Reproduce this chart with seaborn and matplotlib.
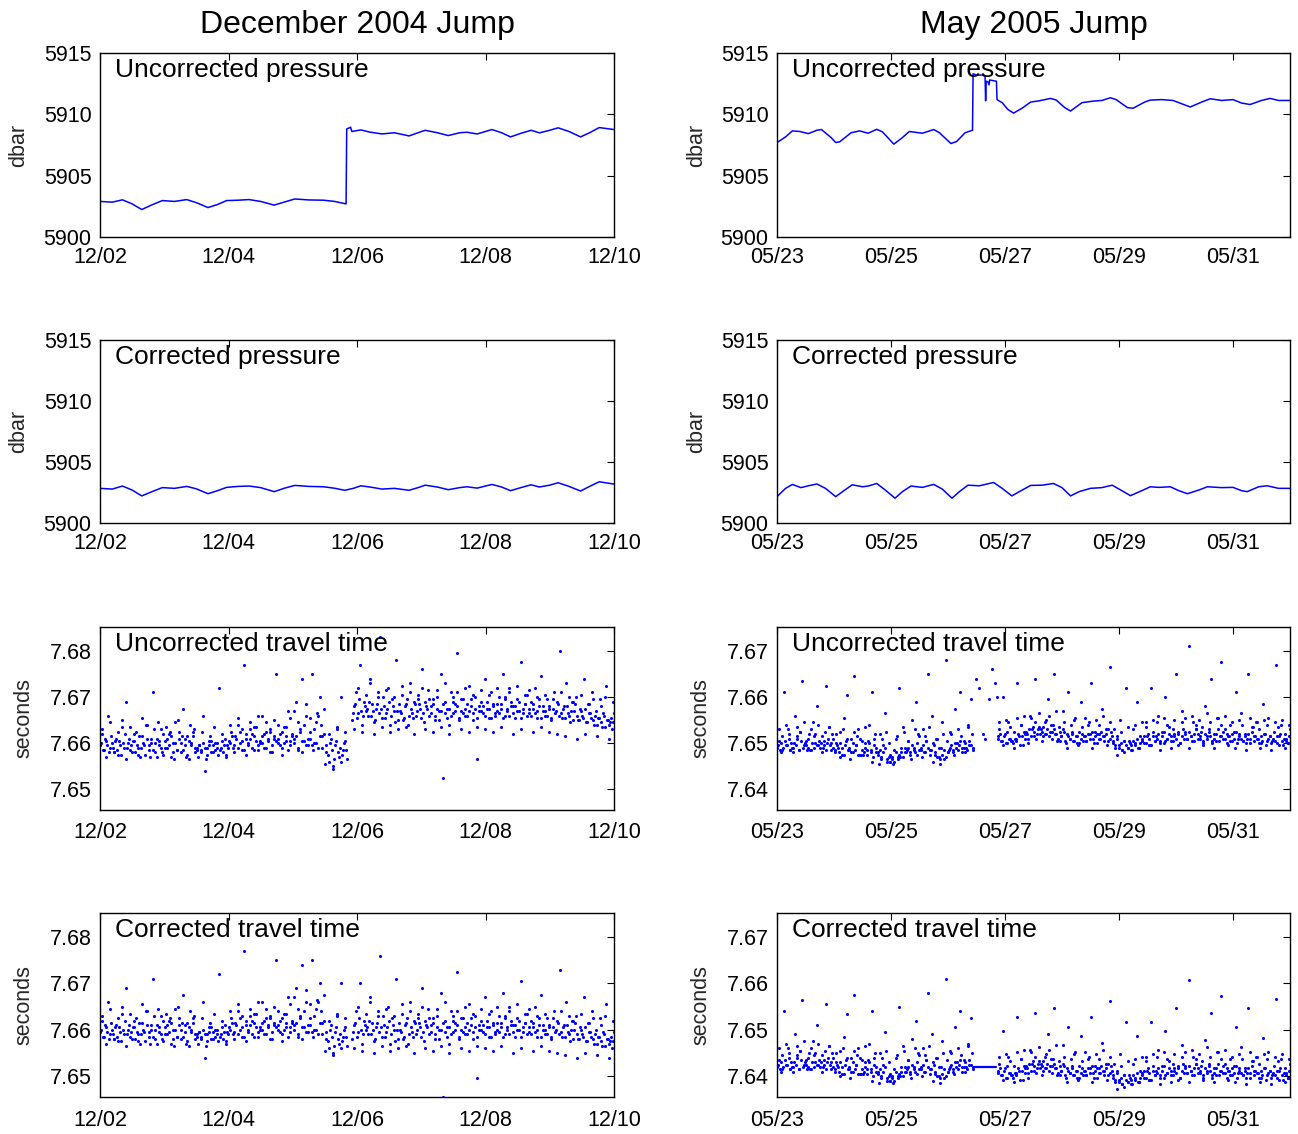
import numpy as np
import pandas as pd
import seaborn as sns
import matplotlib.pyplot as plt

# ---------------- pressure (dbar), x = days since window start ----------------
dec_p_days = [0, 0.19, 0.35, 0.5, 0.65, 0.8, 0.97, 1.16, 1.35, 1.5,
              1.68, 1.83, 1.97, 2.15, 2.32, 2.5, 2.71, 2.87, 3.03, 3.25,
              3.48, 3.65, 3.83, 3.84, 3.90, 3.92, 4.06, 4.2, 4.39, 4.58,
              4.81, 4.95, 5.06, 5.25, 5.42, 5.6, 5.71, 5.87, 6.1, 6.25,
              6.39, 6.55, 6.71, 6.84, 7.0, 7.13, 7.3, 7.48, 7.62, 7.77, 8.0]
dec_p_raw = [5902.9, 5902.84, 5903.03, 5902.7, 5902.24, 5902.6, 5902.97, 5902.9, 5903.05, 5902.8,
             5902.4, 5902.65, 5902.97, 5903.0, 5903.05, 5902.9, 5902.6, 5902.85, 5903.1, 5903.02,
             5903.0, 5902.9, 5902.7, 5908.8, 5908.95, 5908.6, 5908.73, 5908.55, 5908.4, 5908.5,
             5908.24, 5908.5, 5908.7, 5908.5, 5908.27, 5908.5, 5908.54, 5908.4, 5908.76, 5908.5,
             5908.16, 5908.45, 5908.7, 5908.49, 5908.7, 5908.9, 5908.6, 5908.16, 5908.5, 5908.92, 5908.76]

dec_pc_days = [0, 0.19, 0.35, 0.5, 0.65, 0.8, 0.97, 1.16, 1.35, 1.5,
               1.68, 1.83, 1.97, 2.15, 2.32, 2.5, 2.71, 2.87, 3.03, 3.25,
               3.48, 3.65, 3.81, 3.95, 4.06, 4.2, 4.39, 4.58, 4.81, 4.95,
               5.06, 5.25, 5.42, 5.6, 5.71, 5.87, 6.1, 6.25, 6.39, 6.55,
               6.71, 6.84, 7.0, 7.13, 7.3, 7.48, 7.62, 7.77, 8.0]
dec_p_corr = [5902.84, 5902.78, 5903.03, 5902.7, 5902.22, 5902.55, 5902.9, 5902.84, 5903.0, 5902.8,
              5902.4, 5902.65, 5902.92, 5903.0, 5903.03, 5902.9, 5902.57, 5902.85, 5903.08, 5903.0,
              5902.97, 5902.85, 5902.68, 5902.85, 5903.05, 5902.95, 5902.78, 5902.84, 5902.68, 5902.9,
              5903.1, 5902.95, 5902.73, 5902.9, 5902.97, 5902.86, 5903.16, 5902.95, 5902.65, 5902.9,
              5903.13, 5902.95, 5903.1, 5903.3, 5903.0, 5902.62, 5903.0, 5903.38, 5903.19]

may_p_days = [0, 0.15, 0.27, 0.4, 0.55, 0.7, 0.78, 0.95, 1.03, 1.1,
              1.3, 1.45, 1.6, 1.75, 1.85, 2.05, 2.2, 2.32, 2.55, 2.75,
              2.85, 3.05, 3.15, 3.3, 3.43, 3.44, 3.5, 3.6, 3.65, 3.66,
              3.67, 3.7, 3.72, 3.73, 3.85, 3.86, 3.95, 4.05, 4.15, 4.3,
              4.45, 4.6, 4.8, 4.9, 5.05, 5.15, 5.35, 5.55, 5.7, 5.85,
              5.95, 6.15, 6.25, 6.45, 6.55, 6.75, 6.95, 7.1, 7.25, 7.45,
              7.6, 7.8, 8.0, 8.15, 8.3, 8.5, 8.65, 8.8, 9.0]
may_p_raw = [5907.7, 5908.16, 5908.65, 5908.6, 5908.43, 5908.7, 5908.76, 5908.1, 5907.7, 5907.76,
             5908.5, 5908.65, 5908.46, 5908.78, 5908.57, 5907.57, 5908.1, 5908.6, 5908.46, 5908.76,
             5908.5, 5907.62, 5907.78, 5908.5, 5908.7, 5913.3, 5913.2, 5913.2, 5913.1, 5911.1,
             5912.7, 5912.65, 5912.4, 5912.8, 5912.7, 5911.2, 5910.95, 5910.4, 5910.1, 5910.5,
             5911.0, 5911.1, 5911.3, 5911.16, 5910.54, 5910.27, 5910.95, 5911.08, 5911.13, 5911.35,
             5911.2, 5910.54, 5910.5, 5911.0, 5911.16, 5911.2, 5911.13, 5910.86, 5910.6, 5911.0,
             5911.27, 5911.13, 5911.2, 5910.92, 5910.8, 5911.13, 5911.3, 5911.13, 5911.13]

may_pc_days = [0, 0.15, 0.27, 0.42, 0.55, 0.7, 0.85, 1.03, 1.15, 1.32,
               1.5, 1.6, 1.75, 1.9, 2.07, 2.2, 2.35, 2.55, 2.75, 2.9,
               3.07, 3.2, 3.35, 3.55, 3.8, 3.95, 4.12, 4.25, 4.45, 4.65,
               4.85, 5.0, 5.15, 5.3, 5.5, 5.7, 5.88, 6.05, 6.2, 6.4,
               6.55, 6.7, 6.9, 7.05, 7.2, 7.4, 7.55, 7.8, 8.0, 8.15,
               8.25, 8.45, 8.6, 8.8, 9.0]
may_p_corr = [5902.16, 5902.84, 5903.16, 5902.9, 5903.05, 5903.2, 5902.84, 5902.16, 5902.57, 5903.13,
              5902.97, 5903.03, 5903.24, 5902.7, 5902.03, 5902.57, 5903.03, 5902.92, 5903.16, 5902.78,
              5902.03, 5902.57, 5903.1, 5903.05, 5903.32, 5902.84, 5902.22, 5902.57, 5903.08, 5903.1,
              5903.24, 5902.9, 5902.22, 5902.57, 5902.84, 5902.9, 5903.1, 5902.65, 5902.24, 5902.65,
              5902.97, 5902.92, 5902.97, 5902.65, 5902.4, 5902.7, 5902.97, 5902.9, 5902.92, 5902.65,
              5902.57, 5902.97, 5903.05, 5902.84, 5902.84]

# ---------------- travel time, in 0.1 ms relative to a base value ----------------
# each segment is read as interleaved passes: wide, core and mid
dec_tt_base = 7.66
dec_tt_a_span = (0.0, 3.84)   # before the jump
dec_tt_a = [-5, 20, -15, 5, 60, -10, 0, -20,  10, -25, -5, 35, -10, 90, 0, -15,
            -20, 5, 25, -10, -30, 15, -5, 40,  -15, 0, 110, -20, 10, -5, 30, -25,
            5, -10, 20, -30, 0, 45, -15, 10,  -20, 75, -5, 15, -35, 0, 25, -10,
            -10, -5, -15, 60, -60, -10, 5, -20,  -5, -15, 0, 120, -10, -20, 10, -5,
            5, 25, -10, 15, 40, 0, -15, 170,  10, -5, 30, 20, -15, 5, 60, 0,
            15, -10, 45, 5, 25, -20, 10, 150,  0, 20, -10, 35, 5, 70, -5, 15,
            10, 90, -15, 30, 140, 5, 60, -5,  25, 150, 0, 45, -10, 100, 15, 75,
            -20, -40, 10, -55, -5, 30, -30, 100,  -15, 5, -35]
dec_tt_a2_span = (0.015, 3.83)
dec_tt_a2 = [0, -15, 10, -5, -20, 15, -10, 5,  -15, 5, -25, 0, 20, -10, 10, -5,
             5, -20, -5, 15, -10, 0, -25, 10,  -5, 10, -15, 0, -30, 5, -10, 20,
             -10, 10, -5, 15, -20, 0, -15, 25,  0, -15, 10, -25, 5, -5, 15, -20,
             -15, -5, -20, 0, -10, -25, -5, 5,  -20, 0, -10, -15, 5, -5, -25, -10,
             0, 15, -5, 10, -10, 25, 5, -15,  20, 0, 10, -10, 15, 35, -5, 5,
             0, 20, -10, 10, 30, -5, 15, 5,  10, -5, 25, 0, 15, -15, 5, 20,
             0, 15, -10, 25, 5, 40, -5, 10,  10, -5, 30, 0, 60, 15, -10, 20,
             -5, -25, 0, -15, -35, 5, -20, -10,  -25, 0, -15]
dec_tt_a3_span = (0.03, 3.82)
dec_tt_a3 = [30, -30, 45, -20, 25, 50, -35, 35, 20, -25, 55, 40, -30, 30, 45, -20,
             35, 25, -35, 50, 15, -30, 40, 30,  -30, 25, -35, 15, 35, -25, 20, -30,
             40, -20, 55, 30, -25, 45, 35, -15, 60, 25, -20, 50, 40, -25, 35, 55,
             70, 45, -20, 85, 55, -15, 65, 40,  -45, 20, -50, 35, -40, 25]
dec_tt_b_span = (3.92, 8.0)   # after the jump
dec_tt_b = [50, 80, 110, 65, 170, 40, 90, 70,  60, 140, 85, 45, 75, 100, 230, 55,
            80, 65, 120, 40, 95, 70, 180, 50,  70, 105, 55, 85, 40, 130, 65, 90,
            60, 95, 75, 160, 45, 80, 115, 65,  85, 50, 100, 70, 150, -75, 90, 75,
            40, 110, 65, 85, 195, 55, 70, 95,  75, 60, 125, 80, 50, 100, -35, 70,
            90, 65, 140, 75, 55, 110, 80, 60,  70, 100, 85, 150, 60, 75, 120, 90,
            80, 55, 95, 70, 175, 65, 85, 105,  65, 90, 75, 120, 55, 80, 145, 70,
            60, 95, 75, 50, 110, 70, 85, 200,  55, 80, 130, 65, 45, 90, 70, 100,
            50, 75, 60, 140, 45, 85, 65, 110,  40, 70, 55, 95, 35, 60, 125, 50,
            45, 30, 65]
dec_tt_b2_span = (3.935, 7.99)
dec_tt_b2 = [65, 85, 55, 95, 70, 60, 80, 75,  90, 60, 70, 50, 85, 65, 75, 100,
             55, 75, 90, 60, 80, 45, 70, 85,  65, 50, 80, 95, 60, 75, 55, 85,
             70, 85, 55, 65, 90, 75, 60, 80,  95, 60, 75, 50, 70, 85, 65, 55,
             75, 60, 90, 70, 80, 50, 95, 65,  60, 85, 70, 95, 65, 75, 55, 80,
             70, 80, 60, 90, 75, 55, 85, 65,  85, 65, 75, 55, 95, 70, 60, 80,
             65, 80, 70, 90, 55, 75, 85, 60,  75, 60, 85, 65, 70, 95, 55, 80,
             70, 60, 80, 55, 75, 65, 90, 60,  65, 75, 55, 80, 60, 70, 50, 85,
             60, 50, 70, 55, 75, 45, 65, 55,  50, 60, 40, 55, 45, 65, 35, 50,
             40, 55, 45]
dec_tt_b3_span = (3.95, 7.98)
dec_tt_b3 = [30, 120, 25, 105, 130, 20, 110, 35,
             115, 25, 100, 30, 125, 35, 110, 20, 105, 120, 30, 95, 25, 115, 35, 130,
             20, 100, 110, 30, 120, 25, 105, 35,
             115, 30, 105, 25, 120, 35, 100, 110, 20, 125, 30, 105, 115, 25, 100, 35,
             105, 25, 95, 20, 110, 15, 100, 90, 10, 105, 20, 85, 95, 15, 80, 100, 10, 90]
dec_tt_shift = 0.007          # correction removed after the jump

may_tt_base = 7.65
may_tt_a_span = (0.0, 3.44)
may_tt_a = [-10, 5, -20, 15, 110, -5, 30, -15,  0, -10, 60, 10, -15, 25, 135, -5,
            5, -10, 20, -15, 45, 0, 80, -5,  -10, 15, -5, 125, 0, 35, -15, 10,
            -20, 0, -10, 25, -25, 55, -5, 105,  -15, 10, -20, 145, -5, 30, -25, 5,
            -25, 0, -15, 40, -20, 110, 10, -10,  -20, 20, -30, -5, 65, -35, 0, -40,
            -35, -15, 10, -30, 120, -20, 35, -10,  -15, 5, -20, 50, -10, 90, -25, 15,
            -10, 30, -20, 5, 150, -15, 60, -5,  -25, 10, -30, -10, 45, -35, 180, -20,
            -10, 20, -15, 75, 0, -5, 110, -20,  5, -10, 40, -5, 95, -15]
may_tt_a2_span = (0.015, 3.43)
may_tt_a2 = [-5, -15, 0, -10, 5, -5, 10, -15,  -10, 0, -5, 15, -15, 5, -10, 0,
             -5, 10, -15, 0, -10, 20, -5, 5,  0, -10, 5, -15, 10, -5, 0, -10,
             -15, -5, -20, 0, -10, -25, 5, -15,  -10, -20, 0, -15, -5, -25, 10, -15,
             -20, -10, -25, 0, -15, -30, -5, -20,  -25, -15, -35, -20, -10, -40, -30, -25,
             -30, -40, -20, -35, -25, -10, -30, -20,  -20, -10, -25, -5, -15, -20, 0, -15,
             -15, -5, -20, 5, -10, -25, -15, 0,  -20, -30, -10, -35, -25, -15, -30, -20,
             -15, -5, -20, 0, -10, -15, 5, -10,  -10, 0, -15, 5, -5, -10]
may_tt_a3_span = (0.03, 3.42)
may_tt_a3 = [30, -15, 40, 20, -20, 35, 25, 45, -15, 30, 15, 40, -20, 25, 35, 20,
             20, -30, 30, 10, -35, 25, 15, -25, 35, 5, -40, 20, -45, 10, 25, -40,
             -45, 15, -30, 25, 5, -35, 30, 20, -30, 15, 35, -40, 10, -45, 20, 5,
             25, -25, 30, 15, -20, 35, 20]
may_tt_gap_days = [3.49, 3.54, 3.62, 3.65, 3.72, 3.78, 3.82, 3.86]
may_tt_gap = [140, 120, 20, 10, 95, 160, 130, 100]
may_tt_b_span = (3.87, 9.0)
may_tt_b = [15, 30, 5, 100, 20, 0, 45, 10,  5, 25, 10, 130, 15, 40, -5, 20,
            25, 10, 60, 30, 15, 140, 20, 35,  30, 15, 45, 20, 95, 25, 10, 150,
            20, 5, 35, 15, 70, 25, 0, 110,  10, 25, 5, 55, 15, 0, 90, 20,
            15, 5, 40, 20, 130, 10, 25, 0,  20, 10, 75, 15, 30, 5, 165, 25,
            0, -10, 15, -5, 50, -15, 5, 120,  -10, 5, -5, 30, 0, 90, -10, 15,
            10, 0, 45, 15, -5, 120, 25, 5,  15, 60, 5, 25, 0, 100, 10, 35,
            5, 30, 15, 150, 20, 0, 70, 10,  25, 10, 210, 15, 45, 5, 30, 20,
            10, 35, 0, 80, 15, 25, 140, 5,  20, 5, 55, 15, 175, 10, 30, 0,
            15, 40, 5, 25, 110, 10, 20, 65,  5, 20, 10, 150, 0, 35, 15, 45,
            10, 30, 0, 85, 20, 5, 55, 15,  5, 25, 170, 0, 15, 40, -5, 20,
            10, 0, 30]
may_tt_b2_span = (3.885, 8.99)
may_tt_b2 = [10, 20, 5, 15, 0, 25, 10, 5,  0, 10, 5, 20, -5, 15, 25, 10,
             20, 30, 15, 35, 25, 10, 30, 20,  25, 35, 20, 30, 15, 40, 25, 30,
             20, 10, 25, 15, 30, 5, 20, 15,  10, 20, 5, 15, 0, 25, 10, 5,
             15, 5, 20, 10, 25, 0, 15, 20,  10, 25, 15, 5, 20, 30, 10, 15,
             5, -5, 10, -10, 0, -15, 5, -5,  -10, 0, -15, 5, -5, 10, -10, 0,
             5, 15, 0, 20, 10, -5, 15, 5,  10, 20, 0, 15, 25, 5, 10, 20,
             15, 5, 20, 10, 25, 0, 15, 30,  20, 10, 25, 15, 5, 20, 30, 10,
             15, 25, 5, 20, 10, 30, 15, 0,  10, 20, 30, 5, 15, 25, 10, 20,
             15, 5, 20, 10, 25, 0, 15, 10,  5, 15, 0, 20, 10, 25, 5, 15,
             10, 0, 15, 5, 20, -5, 10, 15,  0, 10, 5, 15, -5, 20, 5, 10,
             5, 0, 15]
may_tt_b3_span = (3.9, 8.98)
may_tt_b3 = [45, -5, 50, 35, -10, 55, 40, 60, 0, 55, 45, 65, 5, 50, 60, 40, 70, 5,
             45, -10, 40, 50, -5, 35, 55, 45, -10, 50, 40, 60, -5, 45,
             30, -25, 25, -20, 35, -15,
             40, -10, 45, 35, -5, 50, 45, -15, 55, 40, -10,
             50, -5, 45, 55, -10, 60, 40, 50, -5, 65, 45, -10, 55, 40, 60, -5,
             45, -10, 50, 40, -15, 55, 35, 45, -10, 50, 40, -15, 45, 35, 50, -10, 40]
may_shift_a = 0.007
may_shift_b = 0.0103
may_flat_span = (3.46, 3.84)
may_flat_value = 7.642

# ---------------- axis setup data ----------------
dec_start, dec_days = '2004-12-02', 8
may_start, may_days = '2005-05-23', 9
dec_ticks = ['12/02', '12/04', '12/06', '12/08', '12/10']
may_ticks = ['05/23', '05/25', '05/27', '05/29', '05/31']
titles = ['December 2004 Jump', 'May 2005 Jump']
panel_names = ['Uncorrected pressure', 'Corrected pressure',
               'Uncorrected travel time', 'Corrected travel time']


def stamp(start, days):
    return pd.Timestamp(start) + pd.to_timedelta(np.asarray(days, dtype=float), unit='D')


def tt_frame(start, span, vals, base, shift=0.0):
    d = np.linspace(span[0], span[1], len(vals))
    return pd.DataFrame({'t': stamp(start, d),
                         'v': base + np.asarray(vals) / 10000.0 - shift})


sns.set_theme(style='white')
plt.rcParams['font.family'] = ['Liberation Sans', 'DejaVu Sans']

W, H = 1298, 1134
fig = plt.figure(figsize=(W / 100, H / 100), dpi=100)
cols = [(100, 614), (777, 1290)]
rows = [(53, 237), (340, 523), (627, 810), (913, 1097)]
blue = '#0000ff'

axes = {}
for c, (x0, x1) in enumerate(cols):
    for r, (y0, y1) in enumerate(rows):
        axes[(r, c)] = fig.add_axes([x0 / W, 1 - y1 / H, (x1 - x0) / W, (y1 - y0) / H])

# pressure lines
p_sets = [
    (0, 0, dec_start, dec_p_days, dec_p_raw), (1, 0, dec_start, dec_pc_days, dec_p_corr),
    (0, 1, may_start, may_p_days, may_p_raw), (1, 1, may_start, may_pc_days, may_p_corr),
]
for r, c, start, days, vals in p_sets:
    df = pd.DataFrame({'t': stamp(start, days), 'v': vals})
    sns.lineplot(data=df, x='t', y='v', ax=axes[(r, c)], color=blue, lw=1.1,
                 estimator=None, sort=False)

# travel time dots
dot_kw = dict(x='t', y='v', color=blue, s=5, linewidth=0, marker='o', legend=False)
dec_a = [tt_frame(dec_start, dec_tt_a_span, dec_tt_a, dec_tt_base),
         tt_frame(dec_start, dec_tt_a2_span, dec_tt_a2, dec_tt_base),
         tt_frame(dec_start, dec_tt_a3_span, dec_tt_a3, dec_tt_base)]
dec_b = [(dec_tt_b_span, dec_tt_b), (dec_tt_b2_span, dec_tt_b2), (dec_tt_b3_span, dec_tt_b3)]
dec_raw = pd.concat(dec_a + [tt_frame(dec_start, s, v, dec_tt_base) for s, v in dec_b])
dec_cor = pd.concat(dec_a + [tt_frame(dec_start, s, v, dec_tt_base, dec_tt_shift) for s, v in dec_b])

may_a = [(may_tt_a_span, may_tt_a), (may_tt_a2_span, may_tt_a2), (may_tt_a3_span, may_tt_a3)]
may_b = [(may_tt_b_span, may_tt_b), (may_tt_b2_span, may_tt_b2), (may_tt_b3_span, may_tt_b3)]
may_gap = pd.DataFrame({'t': stamp(may_start, may_tt_gap_days),
                        'v': may_tt_base + np.asarray(may_tt_gap) / 10000.0})
may_raw = pd.concat([tt_frame(may_start, s, v, may_tt_base) for s, v in may_a] + [may_gap]
                    + [tt_frame(may_start, s, v, may_tt_base) for s, v in may_b])
may_cor = pd.concat([tt_frame(may_start, s, v, may_tt_base, may_shift_a) for s, v in may_a]
                    + [tt_frame(may_start, s, v, may_tt_base, may_shift_b) for s, v in may_b])

sns.scatterplot(data=dec_raw, ax=axes[(2, 0)], **dot_kw)
sns.scatterplot(data=dec_cor, ax=axes[(3, 0)], **dot_kw)
sns.scatterplot(data=may_raw, ax=axes[(2, 1)], **dot_kw)
sns.scatterplot(data=may_cor, ax=axes[(3, 1)], **dot_kw)
flat = pd.DataFrame({'t': stamp(may_start, may_flat_span), 'v': [may_flat_value] * 2})
sns.lineplot(data=flat, x='t', y='v', ax=axes[(3, 1)], color=blue, lw=1.6, estimator=None)

# cosmetics
for (r, c), ax in axes.items():
    start, ndays, labels = (dec_start, dec_days, dec_ticks) if c == 0 else (may_start, may_days, may_ticks)
    ax.set_xlim(stamp(start, [0, ndays]))
    ax.set_xticks(stamp(start, [0, 2, 4, 6, 8]))
    ax.set_xticklabels(labels)
    if r < 2:
        ax.set_ylim(5900, 5915)
        ax.set_yticks([5900, 5905, 5910, 5915])
        ax.set_yticklabels(['5900', '5905', '5910', '5915'])
        ax.set_ylabel('dbar', fontsize=15.5)
        ax.yaxis.set_label_coords(-0.137, 0.5)
        xpad = 7
    else:
        if c == 0:
            ax.set_ylim(7.6455, 7.6852)
            yt = [7.65, 7.66, 7.67, 7.68]
        else:
            ax.set_ylim(7.6355, 7.6752)
            yt = [7.64, 7.65, 7.66, 7.67]
        ax.set_yticks(yt)
        ax.set_yticklabels([f'{v:.2f}' for v in yt])
        ax.set_ylabel('seconds', fontsize=15.5)
        ax.yaxis.set_label_coords(-0.127, 0.5)
        xpad = 9
    ax.set_xlabel('')
    ax.tick_params(direction='in', top=True, right=True, length=5, width=0.8,
                   labelsize=15.5, colors='black')
    ax.tick_params(axis='x', pad=xpad)
    ax.tick_params(axis='y', pad=6)
    for sp in ax.spines.values():
        sp.set_visible(True)
        sp.set_color('black')
        sp.set_linewidth(1.0)
    ax.text(0.03, 0.87, panel_names[r], transform=ax.transAxes, fontsize=19,
            ha='left', va='baseline', color='black')

for c, (x0, x1) in enumerate(cols):
    fig.text((x0 + x1) / 2 / W, 1 - 33 / H, titles[c], ha='center', va='baseline',
             fontsize=23, color='black')

fig.savefig('out.png', dpi=100)
